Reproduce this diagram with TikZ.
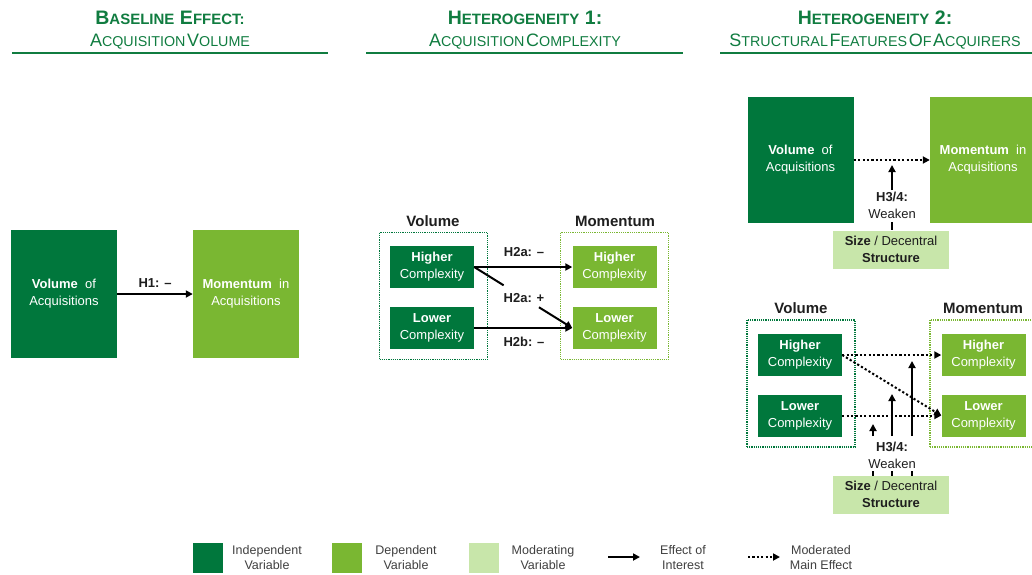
\documentclass[tikz,border=0pt]{standalone}
\usepackage{fontspec}
\setmainfont{Liberation Sans}
\usetikzlibrary{arrows.meta,calc}
\definecolor{dkg}{RGB}{0,119,60}
\definecolor{ltg}{RGB}{122,183,50}
\definecolor{plg}{RGB}{200,230,170}
\definecolor{ttl}{RGB}{16,124,64}
\definecolor{txt}{RGB}{30,30,30}
\newcommand\BigL[1]{{\fontsize{19.5}{22}\selectfont #1}}
\newcommand\SmL[1]{{\fontsize{15}{22}\selectfont #1}}
\newcommand\BigM[1]{{\fontsize{18}{22}\selectfont #1}}
\newcommand\SmM[1]{{\fontsize{14.3}{22}\selectfont #1}}
\tikzset{
  base/.style={inner sep=0pt, align=center, font=\fontsize{13}{17}\selectfont},
  dkbox/.style={base, fill=dkg, text=white},
  ltbox/.style={base, fill=ltg, text=white},
  mdbox/.style={base, fill=plg, text=txt},
  bigbox/.style={minimum width=106pt, minimum height=128pt},
  smbox/.style={minimum width=84pt, minimum height=42pt},
  modbox/.style={minimum width=116pt, minimum height=38pt},
  grpdk/.style={draw=dkg, densely dotted, line width=1.2pt, minimum width=108pt, minimum height=127pt, inner sep=0pt},
  grplt/.style={draw=ltg, densely dotted, line width=1.2pt, minimum width=108pt, minimum height=127pt, inner sep=0pt},
  hdr/.style={base, font=\fontsize{15}{18}\selectfont\bfseries, text=txt},
  lbl/.style={base, text=txt},
  lgd/.style={base, font=\fontsize{12.5}{15}\selectfont, text=txt!85},
  ttltxt/.style={inner sep=0pt, text=ttl},
  ttlline/.style={draw=ttl, line width=2pt},
  sarr/.style={line width=2pt, -{Triangle[length=7pt,width=7pt]}},
  sline/.style={line width=2pt},
  darr/.style={line width=2pt, dash pattern=on 2.2pt off 2.2pt, -{Triangle[length=7pt,width=7pt]}},
}
\begin{document}
\begin{tikzpicture}[x=1pt,y=-1pt]
\useasboundingbox (0,0) rectangle (1032,574);
% ---------- titles
\node[ttltxt] (t1a) at (170,18) {\bfseries\BigL{B}\SmL{ASELINE}\ \ \BigL{E}\SmL{FFECT:}};
\node[ttltxt] (t1b) at (170,42) {\BigM{A}\SmM{CQUISITION}\,\BigM{V}\SmM{OLUME}};
\draw[ttlline] (12,53) -- (328,53);
\node[ttltxt] (t2a) at (525,18) {\bfseries\BigL{H}\SmL{ETEROGENEITY}\ \ \BigL{1:}};
\node[ttltxt] (t2b) at (525,42) {\BigM{A}\SmM{CQUISITION}\,\BigM{C}\SmM{OMPLEXITY}};
\draw[ttlline] (366,53) -- (683,53);
\node[ttltxt] (t3a) at (875,18) {\bfseries\BigL{H}\SmL{ETEROGENEITY}\ \ \BigL{2:}};
\node[ttltxt] (t3b) at (875,42) {\BigM{S}\SmM{TRUCTURAL}\,\BigM{F}\SmM{EATURES}\,\BigM{O}\SmM{F}\,\BigM{A}\SmM{CQUIRERS}};
\draw[ttlline] (720,53) -- (1032,53);
% ---------- panel 1
\node[dkbox,bigbox] (p1v) at (64,294) {\textbf{Volume}\ \ of\\Acquisitions};
\node[ltbox,bigbox] (p1m) at (246,294) {\textbf{Momentum}\ \ in\\Acquisitions};
\draw[sarr] (p1v.east) -- (p1m.west) node[lbl, midway, above=6pt] (h1) {\textbf{H1: –}};
% ---------- panel 2
\node[grpdk] (g2v) at (433.5,296) {};
\node[grplt] (g2m) at (614.5,296) {};
\node[hdr] (h2v) at (433,221) {Volume};
\node[hdr] (h2m) at (615,221) {Momentum};
\node[dkbox,smbox] (v2h) at (432,267) {\textbf{Higher}\\Complexity};
\node[dkbox,smbox] (v2l) at (432,328) {\textbf{Lower}\\Complexity};
\node[ltbox,smbox] (m2h) at (614.5,267) {\textbf{Higher}\\Complexity};
\node[ltbox,smbox] (m2l) at (614.5,328) {\textbf{Lower}\\Complexity};
\draw[sarr] (v2h.east) -- (m2h.west);
\draw[sarr] (v2l.east) -- (m2l.west);
\draw[sline] (v2h.east) -- ($(v2h.east)!0.3!(m2l.west)$);
\draw[sarr] ($(v2h.east)!0.66!(m2l.west)$) -- (m2l.west);
\node[lbl] (l2a) at (524,252) {\textbf{H2a: –}};
\node[lbl] (l2b) at (524,298) {\textbf{H2a: +}};
\node[lbl] (l2c) at (524,342) {\textbf{H2b: –}};
% ---------- panel 3 top
\node[dkbox,bigbox,minimum height=126pt] (p3v) at (800.5,160) {\textbf{Volume}\ \ of\\Acquisitions};
\node[ltbox,bigbox,minimum height=126pt] (p3m) at (983,160) {\textbf{Momentum}\ \ in\\Acquisitions};
\draw[darr] (p3v.east) -- (p3m.west);
\node[mdbox,modbox] (p3s) at (891,249.5) {\textbf{Size} / Decentral\\\textbf{Structure}};
\node[lbl] (w3) at (892,205) {\textbf{H3/4:}\\Weaken};
\coordinate (a3s) at (892,190);
\coordinate (a3e) at (892,165);
\draw[sarr] (a3s) -- (a3e);
\coordinate (t3s) at (892,222);
\coordinate (t3e) at (892,230);
\draw[sline] (t3s) -- (t3e);
% ---------- panel 3 bottom
\node[grpdk] (g3v) at (801,383.5) {};
\node[grplt] (g3m) at (984,383.5) {};
\node[hdr] (h3v) at (801,308) {Volume};
\node[hdr] (h3m) at (983,308) {Momentum};
\node[dkbox,smbox] (v3h) at (800,355) {\textbf{Higher}\\Complexity};
\node[dkbox,smbox] (v3l) at (800,415.5) {\textbf{Lower}\\Complexity};
\node[ltbox,smbox] (m3h) at (983.5,355) {\textbf{Higher}\\Complexity};
\node[ltbox,smbox] (m3l) at (983.5,415.5) {\textbf{Lower}\\Complexity};
\draw[darr] (v3h.east) -- (m3h.west);
\draw[darr] (v3h.east) -- (m3l.west);
\draw[darr] (v3l.east) -- (m3l.west);
\node[mdbox,modbox] (p3s2) at (891,494.5) {\textbf{Size} / Decentral\\\textbf{Structure}};
\node[lbl] (w3b) at (892,455) {\textbf{H3/4:}\\Weaken};
\foreach \x/\t in {873/424, 892/394, 912/361}{
  \draw[sarr] (\x,436) -- (\x,\t);
  \draw[sline] (\x,471) -- (\x,476);
}
% ---------- legend
\node[fill=dkg, minimum width=30pt, minimum height=30pt, inner sep=0pt] (k1) at (208,558) {};
\node[lgd] (k1t) at (267,557.5) {Independent\\Variable};
\node[fill=ltg, minimum width=30pt, minimum height=30pt, inner sep=0pt] (k2) at (347,558) {};
\node[lgd] (k2t) at (406,557.5) {Dependent\\Variable};
\node[fill=plg, minimum width=30pt, minimum height=30pt, inner sep=0pt] (k3) at (484,558) {};
\node[lgd] (k3t) at (543,557.5) {Moderating\\Variable};
\coordinate (k4a) at (608,557);
\coordinate (k4b) at (640,557);
\draw[sarr] (k4a) -- (k4b);
\node[lgd] (k4t) at (683,557.5) {Effect of\\Interest};
\coordinate (k5a) at (748,557);
\coordinate (k5b) at (780,557);
\draw[darr] (k5a) -- (k5b);
\node[lgd] (k5t) at (821,557.5) {Moderated\\Main Effect};
\end{tikzpicture}
\end{document}
